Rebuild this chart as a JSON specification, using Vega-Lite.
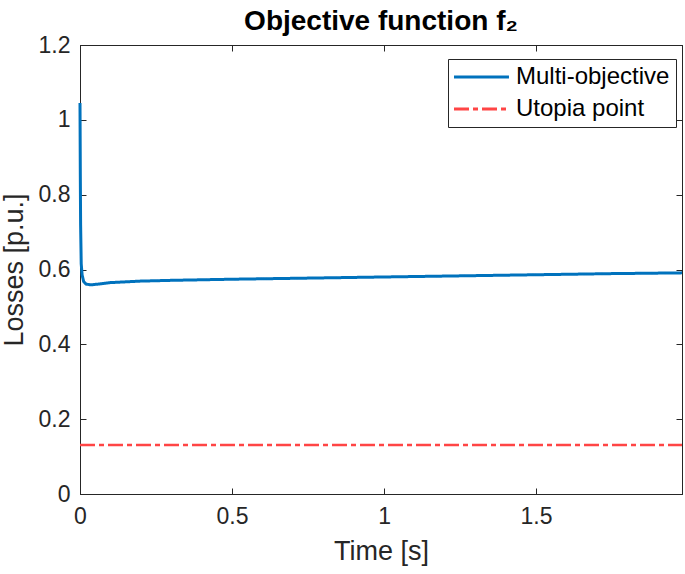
{
  "$schema": "https://vega.github.io/schema/vega-lite/v6.json",
  "width": 602,
  "height": 449,
  "autosize": "none",
  "padding": {"left": 80, "top": 45, "right": 3, "bottom": 80},
  "background": "white",
  "title": {"text": "Objective function f₂", "fontSize": 28, "font": "Liberation Sans", "fontWeight": "bold", "color": "#000000", "anchor": "middle", "offset": -2},
  "config": {
    "view": {"stroke": "#262626", "strokeWidth": 1},
    "font": "Liberation Sans",
    "axis": {"grid": false, "labelFlush": false, "domainColor": "#262626", "tickColor": "#262626", "labelColor": "#262626", "titleColor": "#262626", "labelFont": "Liberation Sans", "titleFont": "Liberation Sans", "labelFontSize": 23, "titleFontSize": 27, "titleFontWeight": "normal", "tickSize": -6, "domainWidth": 1}
  },
  "datasets": {
    "multi": [
      {"t": 0, "loss": 1.045, "series": "Multi-objective"},
      {"t": 0.001, "loss": 0.86, "series": "Multi-objective"},
      {"t": 0.002, "loss": 0.72, "series": "Multi-objective"},
      {"t": 0.004, "loss": 0.615, "series": "Multi-objective"},
      {"t": 0.007, "loss": 0.585, "series": "Multi-objective"},
      {"t": 0.012, "loss": 0.568, "series": "Multi-objective"},
      {"t": 0.02, "loss": 0.561, "series": "Multi-objective"},
      {"t": 0.035, "loss": 0.559, "series": "Multi-objective"},
      {"t": 0.06, "loss": 0.561, "series": "Multi-objective"},
      {"t": 0.1, "loss": 0.565, "series": "Multi-objective"},
      {"t": 0.2, "loss": 0.569, "series": "Multi-objective"},
      {"t": 0.3, "loss": 0.571, "series": "Multi-objective"},
      {"t": 0.5, "loss": 0.574, "series": "Multi-objective"},
      {"t": 0.75, "loss": 0.577, "series": "Multi-objective"},
      {"t": 1.0, "loss": 0.58, "series": "Multi-objective"},
      {"t": 1.25, "loss": 0.583, "series": "Multi-objective"},
      {"t": 1.5, "loss": 0.586, "series": "Multi-objective"},
      {"t": 1.75, "loss": 0.589, "series": "Multi-objective"},
      {"t": 1.98, "loss": 0.591, "series": "Multi-objective"}
    ],
    "utopia": [
      {"t": 0, "loss": 0.131, "series": "Utopia point"},
      {"t": 1.98, "loss": 0.131, "series": "Utopia point"}
    ]
  },
  "layer": [
    {
      "data": {"name": "multi"},
      "mark": {"type": "line", "strokeWidth": 3},
      "encoding": {
        "x": {"field": "t", "type": "quantitative", "scale": {"domain": [0, 1.98], "nice": false, "zero": false},
              "axis": {"orient": "bottom", "values": [0, 0.5, 1, 1.5], "format": ".1~f", "title": "Time [s]", "labelPadding": 17, "titlePadding": 10}},
        "y": {"field": "loss", "type": "quantitative", "scale": {"domain": [0, 1.2], "nice": false},
              "axis": {"orient": "left", "values": [0, 0.2, 0.4, 0.6, 0.8, 1, 1.2], "format": ".1~f", "title": "Losses [p.u.]", "labelPadding": 16, "titlePadding": 10}},
        "color": {"field": "series", "type": "nominal",
                  "scale": {"domain": ["Multi-objective", "Utopia point"], "range": ["#0072BD", "#FF4545"]},
                  "legend": {"title": null, "orient": "none", "legendX": 368, "legendY": 14, "strokeColor": "#262626", "fillColor": "white", "padding": 6, "symbolType": "M-1.6,0H5.73", "symbolSize": 225, "symbolStrokeWidth": 3, "labelFontSize": 24, "labelFont": "Liberation Sans", "labelColor": "#000000", "labelOffset": 38, "rowPadding": 8}},
        "strokeDash": {"field": "series", "type": "nominal",
                       "scale": {"domain": ["Multi-objective", "Utopia point"], "range": [[1, 0], [15, 4, 5, 4]]},
                       "legend": {"title": null, "orient": "none", "legendX": 368, "legendY": 14}}
      }
    },
    {
      "data": {"name": "utopia"},
      "mark": {"type": "line", "strokeWidth": 2.5},
      "encoding": {
        "x": {"field": "t", "type": "quantitative",
              "axis": {"orient": "top", "values": [0, 0.5, 1, 1.5], "labels": false, "title": null, "domain": true}},
        "y": {"field": "loss", "type": "quantitative",
              "axis": {"orient": "right", "values": [0, 0.2, 0.4, 0.6, 0.8, 1, 1.2], "labels": false, "title": null, "domain": true}},
        "color": {"field": "series", "type": "nominal"},
        "strokeDash": {"field": "series", "type": "nominal"}
      }
    }
  ],
  "resolve": {"axis": {"x": "independent", "y": "independent"}}
}
